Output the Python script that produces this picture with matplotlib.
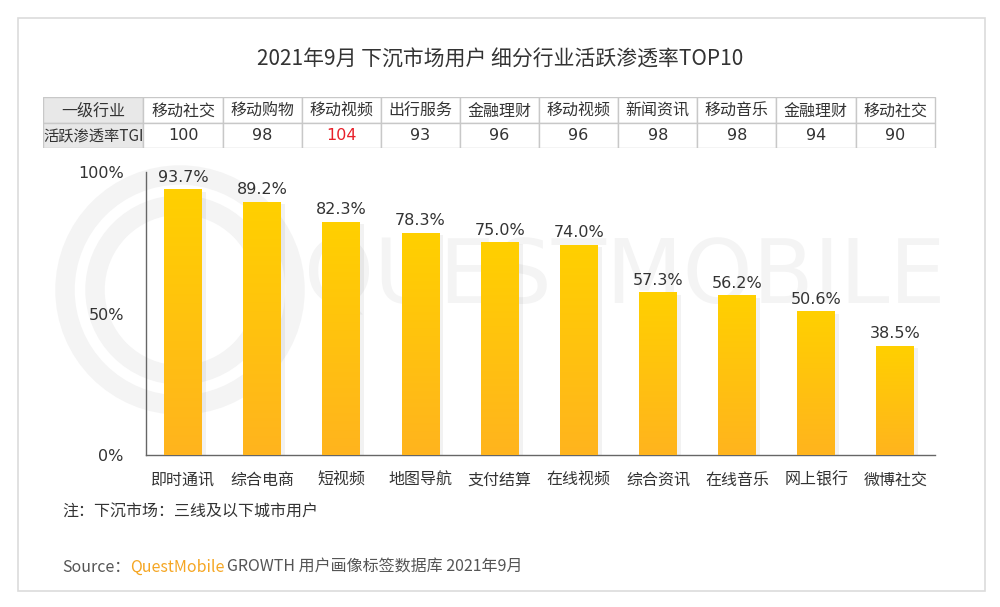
import numpy as np
import matplotlib
matplotlib.use("Agg")
import matplotlib.pyplot as plt
from matplotlib.patches import Rectangle
from matplotlib.colors import LinearSegmentedColormap

plt.rcParams['font.family'] = ['Noto Sans CJK SC', 'DejaVu Sans']

# data
categories = ['即时通讯', '综合电商', '短视频', '地图导航', '支付结算',
              '在线视频', '综合资讯', '在线音乐', '网上银行', '微博社交']
rates = [93.7, 89.2, 82.3, 78.3, 75.0, 74.0, 57.3, 56.2, 50.6, 38.5]
industries = ['移动社交', '移动购物', '移动视频', '出行服务', '金融理财',
              '移动视频', '新闻资讯', '移动音乐', '金融理财', '移动社交']
tgi = [100, 98, 104, 93, 96, 96, 98, 98, 94, 90]
yticks = [0, 50, 100]

W, H = 1000, 607
fig = plt.figure(figsize=(W / 100, H / 100), dpi=100)
fig.patch.set_facecolor('white')

def px(x0, y0, x1, y1):
    # pixel box (top-left origin) -> figure fraction rect
    return [x0 / W, 1 - y1 / H, (x1 - x0) / W, (y1 - y0) / H]

# card frame
fig.patches.append(Rectangle((18 / W, 1 - 591 / H), 967 / W, 573 / H,
                             transform=fig.transFigure, fill=False,
                             edgecolor='#dcdcdc', linewidth=1.2))

# faint watermark behind everything
wm = fig.add_axes([0, 0, 1, 1], zorder=-5)
wm.axis('off')
wm.set_xlim(0, W)
wm.set_ylim(H, 0)
wm.text(625, 278, 'QUESTMOBILE', fontsize=64, color='#f4f4f4',
        ha='center', va='center', family='DejaVu Sans')
for r in (115, 85):
    wm.add_patch(plt.Circle((180, 290), r, fill=False, edgecolor='#f4f4f4',
                            linewidth=14))

fig.text(0.5, 1 - 60 / H, '2021年9月 下沉市场用户 细分行业活跃渗透率TOP10',
         ha='center', va='center', fontsize=15, color='#333333')

# main chart
ax = fig.add_axes(px(146, 172, 935, 455))
ax.patch.set_alpha(0)
x = np.arange(len(categories))
bars = ax.bar(x, rates, width=0.48, color='none', edgecolor='none', zorder=3)

cmap = LinearSegmentedColormap.from_list('yo', ['#ffb41e', '#ffd000'])
grad = np.linspace(0, 1, 256).reshape(-1, 1)
for b in bars:
    bx, bw, bh = b.get_x(), b.get_width(), b.get_height()
    # soft shadow
    ax.add_patch(Rectangle((bx + bw * 0.1, 0), bw, bh - 0.6,
                           facecolor='#000000', alpha=0.05, edgecolor='none', zorder=2))
    ax.imshow(grad, extent=[bx, bx + bw, 0, bh], origin='lower', cmap=cmap,
              aspect='auto', zorder=3)
    ax.text(bx + bw / 2, bh + 1.8, f'{bh:.1f}%', ha='center', va='bottom',
            fontsize=11.5, color='#333333', family='DejaVu Sans')
ax.set_xlim(-0.47, 9.5)
ax.set_ylim(0, 100)

ax.set_yticks(yticks)
ax.set_yticklabels([f'{v}%' for v in yticks], fontsize=11.5, color='#333333',
                   family='DejaVu Sans')
ax.set_xticks(x)
ax.set_xticklabels(categories, fontsize=11.5, color='#333333')
ax.tick_params(length=0, pad=12)
ax.tick_params(axis='y', pad=16)
for s in ['top', 'right']:
    ax.spines[s].set_visible(False)
for s in ['left', 'bottom']:
    ax.spines[s].set_color('#666666')
    ax.spines[s].set_linewidth(1.0)

# table above the chart
tab = fig.add_axes(px(43, 97, 937, 148))
tab.set_xlim(-1.77, 9.53)
tab.set_ylim(0, 2)
tab.axis('off')
edges = [-1.77] + [i - 0.5 for i in range(len(industries) + 1)]
grid_c = '#c8c8c8'
for r in range(2):
    for c in range(len(edges) - 1):
        fc = '#e8e8e8' if c == 0 else 'white'
        tab.add_patch(Rectangle((edges[c], 1 - r), edges[c + 1] - edges[c], 1,
                                facecolor=fc, edgecolor=grid_c, linewidth=1.0))
tab.text((edges[0] + edges[1]) / 2, 1.45, '一级行业', ha='center', va='center',
         fontsize=11.5, color='#333333')
tab.text((edges[0] + edges[1]) / 2, 0.45, '活跃渗透率TGI', ha='center', va='center',
         fontsize=11, color='#333333')
for i, (name, t) in enumerate(zip(industries, tgi)):
    tab.text(i, 1.45, name, ha='center', va='center', fontsize=11.5, color='#333333')
    tab.text(i, 0.5, str(t), ha='center', va='center', fontsize=11.5,
             color='#e8202a' if t > 100 else '#333333', family='DejaVu Sans')

# footnotes
fig.text(62 / W, 1 - 512 / H, '注：下沉市场：三线及以下城市用户', ha='left', va='center',
         fontsize=11.5, color='#333333')
t1 = fig.text(62 / W, 1 - 567 / H, 'Source：', ha='left', va='center',
              fontsize=11.5, color='#555555')
fig.canvas.draw()
bb = t1.get_window_extent()
t2 = fig.text(bb.x1 / W, 1 - 567 / H, 'QuestMobile', ha='left', va='center',
              fontsize=11.5, color='#f5a623')
bb2 = t2.get_window_extent()
fig.text(bb2.x1 / W + 0.002, 1 - 567 / H, 'GROWTH 用户画像标签数据库 2021年9月',
         ha='left', va='center', fontsize=11.5, color='#555555')

fig.savefig('out.png', dpi=100, facecolor='white')
